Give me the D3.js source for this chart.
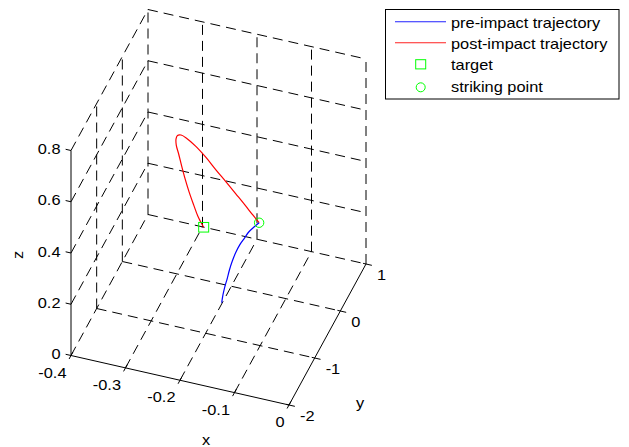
<!DOCTYPE html>
<html>
<head>
<meta charset="utf-8">
<script src="https://cdn.jsdelivr.net/npm/d3@7"></script>
<style>
  html, body { margin: 0; padding: 0; background: #fff; }
  svg { display: block; }
  text { font-family: "Liberation Sans", Arial, Helvetica, sans-serif; font-size: 14px; fill: #000; }
</style>
</head>
<body>
<svg id="chart" width="629" height="447"></svg>
<script>
// ---------- data ----------
const xTicks = [-0.4, -0.3, -0.2, -0.1, 0];
const yTicks = [-2, -1, 0, 1];
const zTicks = [0, 0.2, 0.4, 0.6, 0.8];
const xTickLabels = ["-0.4", "-0.3", "-0.2", "-0.1", "0"];
const yTickLabels = ["-2", "-1", "0", "1"];
const zTickLabels = ["0", "0.2", "0.4", "0.6", "0.8"];

// pre-impact trajectory (blue)
const preX = [-0.180, -0.181, -0.181, -0.180, -0.179, -0.177, -0.174, -0.170, -0.165, -0.161, -0.155, -0.149];
const preY = [-0.80, -0.73, -0.66, -0.59, -0.52, -0.45, -0.38, -0.31, -0.23, -0.15, -0.07, 0.00];
const preZ = [0.092, 0.109, 0.127, 0.146, 0.169, 0.192, 0.214, 0.233, 0.247, 0.258, 0.266, 0.2725];

// post-impact trajectory (red)
const postX = [-0.149, -0.162, -0.178, -0.196, -0.215, -0.235, -0.255, -0.275, -0.293, -0.305, -0.313,
               -0.317, -0.318, -0.315, -0.311, -0.306, -0.300, -0.293, -0.287, -0.281, -0.279];
const postY = [0.00, 0.03, 0.06, 0.09, 0.12, 0.15, 0.18, 0.21, 0.24, 0.27, 0.30,
               0.33, 0.36, 0.39, 0.42, 0.45, 0.48, 0.51, 0.54, 0.57, 0.60];
const postZ = [0.2725, 0.291, 0.317, 0.346, 0.377, 0.409, 0.443, 0.471, 0.488, 0.490, 0.479,
               0.458, 0.428, 0.389, 0.339, 0.285, 0.231, 0.178, 0.133, 0.099, 0.082];

const targetPt = [-0.279, 0.60, 0.082];
const strikePt = [-0.149, 0.00, 0.2725];

const legendLabels = ["pre-impact trajectory", "post-impact trajectory", "target", "striking point"];

// ---------- 3D projection via d3 scales ----------
const xS = d3.scaleLinear().domain([-0.4, 0]).range([0, 1]);
const yS = d3.scaleLinear().domain([-2, 1]).range([0, 1]);
const zS = d3.scaleLinear().domain([0, 0.8]).range([0, 1]);
const O = [71, 355.5], EX = [218, 49.5], EY = [77, -141], EZ = [0, -205];
function P(x, y, z) {
  const a = xS(x), b = yS(y), c = zS(z);
  return [O[0] + a * EX[0] + b * EY[0] + c * EZ[0],
          O[1] + a * EX[1] + b * EY[1] + c * EZ[1]];
}
const SX = 1.17; // horizontal text stretch

const svg = d3.select("#chart");
const gGrid = svg.append("g").attr("stroke", "#000").attr("stroke-width", 1)
  .attr("stroke-dasharray", "10,6").attr("fill", "none");

function seg(g, p, q) {
  const A = P(...p), B = P(...q);
  g.append("line").attr("x1", A[0]).attr("y1", A[1]).attr("x2", B[0]).attr("y2", B[1]);
}
const [x0, x1] = xS.domain(), [y0, y1] = yS.domain(), [z0, z1] = zS.domain();

// floor
xTicks.forEach(xt => { if (xt !== x1) seg(gGrid, [xt, y0, z0], [xt, y1, z0]); });
yTicks.forEach(yt => { if (yt !== y0) seg(gGrid, [x0, yt, z0], [x1, yt, z0]); });
// back wall y = max
xTicks.forEach(xt => seg(gGrid, [xt, y1, z0], [xt, y1, z1]));
zTicks.forEach(zt => { if (zt !== z0) seg(gGrid, [x0, y1, zt], [x1, y1, zt]); });
// left wall x = min
yTicks.forEach(yt => { if (yt !== y0 && yt !== y1) seg(gGrid, [x0, yt, z0], [x0, yt, z1]); });
zTicks.forEach(zt => { if (zt !== z0) seg(gGrid, [x0, y0, zt], [x0, y1, zt]); });

// axes
const gAx = svg.append("g").attr("stroke", "#000").attr("stroke-width", 1).attr("fill", "none");
seg(gAx, [x0, y0, z0], [x1, y0, z0]);
seg(gAx, [x1, y0, z0], [x1, y1, z0]);
seg(gAx, [x0, y0, z0], [x0, y0, z1]);

function unit(v) { const n = Math.hypot(v[0], v[1]); return [v[0] / n, v[1] / n]; }
const ux = unit(EX), uy = unit(EY);
function tick(p, d, from, to) {
  gAx.append("line")
    .attr("x1", p[0] + d[0] * from).attr("y1", p[1] + d[1] * from)
    .attr("x2", p[0] + d[0] * to).attr("y2", p[1] + d[1] * to);
}
const gTxt = svg.append("g");
function label(x, y, s, anchor) {
  gTxt.append("text").attr("transform", `translate(${x},${y}) scale(${SX},1)`)
    .attr("text-anchor", anchor).text(s);
}
xTicks.forEach((xt, i) => {
  const p = P(xt, y0, z0);
  tick(p, uy, -4, 4);
  label(p[0] - 4.5, p[1] + 22, xTickLabels[i], "end");
});
yTicks.forEach((yt, i) => {
  const p = P(x1, yt, z0);
  tick(p, ux, -3, 6);
  label(p[0] + 11, p[1] + 15.5, yTickLabels[i], "start");
});
zTicks.forEach((zt, i) => {
  const p = P(x0, y0, zt);
  tick(p, ux, 0, -5.5);
  label(p[0] - 10.5, p[1] + 3.6, zTickLabels[i], "end");
});

// axis titles
label(206, 445, "x", "middle");
label(360, 408, "y", "middle");
gTxt.append("text").attr("transform", "translate(22.5,255) rotate(-90) scale(" + SX + ",1)")
  .attr("text-anchor", "middle").text("z");

// trajectories
const line = d3.line().curve(d3.curveCatmullRom.alpha(0.5));
const prePts = preX.map((v, i) => P(v, preY[i], preZ[i]));
const postPts = postX.map((v, i) => P(v, postY[i], postZ[i]));
svg.append("path").attr("d", line(postPts)).attr("fill", "none").attr("stroke", "#ff0000").attr("stroke-width", 1.2);
svg.append("path").attr("d", line(prePts)).attr("fill", "none").attr("stroke", "#0000ff").attr("stroke-width", 1.2);

// markers
const tp = P(...targetPt), sp = P(...strikePt);
svg.append("rect").attr("x", tp[0] - 5).attr("y", tp[1] - 4.8).attr("width", 10).attr("height", 9.6)
  .attr("fill", "none").attr("stroke", "#00ff00").attr("stroke-width", 1);
svg.append("circle").attr("cx", sp[0]).attr("cy", sp[1]).attr("r", 4.7)
  .attr("fill", "none").attr("stroke", "#00ff00").attr("stroke-width", 1);

// legend
const lg = svg.append("g");
lg.append("rect").attr("x", 385.5).attr("y", 9.5).attr("width", 233.5).attr("height", 89.5)
  .attr("fill", "#fff").attr("stroke", "#000").attr("stroke-width", 1);
const rowY = [21.7, 42.7, 64.3, 87.3];
const baseY = [27.5, 48.5, 69.5, 92];
lg.append("line").attr("x1", 395).attr("x2", 446).attr("y1", rowY[0]).attr("y2", rowY[0]).attr("stroke", "#2020ff").attr("stroke-width", 1.1);
lg.append("line").attr("x1", 395).attr("x2", 446).attr("y1", rowY[1]).attr("y2", rowY[1]).attr("stroke", "#ff2020").attr("stroke-width", 1.1);
lg.append("rect").attr("x", 420.7 - 5).attr("y", rowY[2] - 4.6).attr("width", 10).attr("height", 9.2)
  .attr("fill", "none").attr("stroke", "#00ff00").attr("stroke-width", 1);
lg.append("circle").attr("cx", 420.7).attr("cy", rowY[3]).attr("r", 4.5)
  .attr("fill", "none").attr("stroke", "#00ff00").attr("stroke-width", 1);
legendLabels.forEach((s, i) => {
  lg.append("text").attr("transform", `translate(451,${baseY[i]}) scale(${SX},1)`).text(s);
});
</script>
</body>
</html>
